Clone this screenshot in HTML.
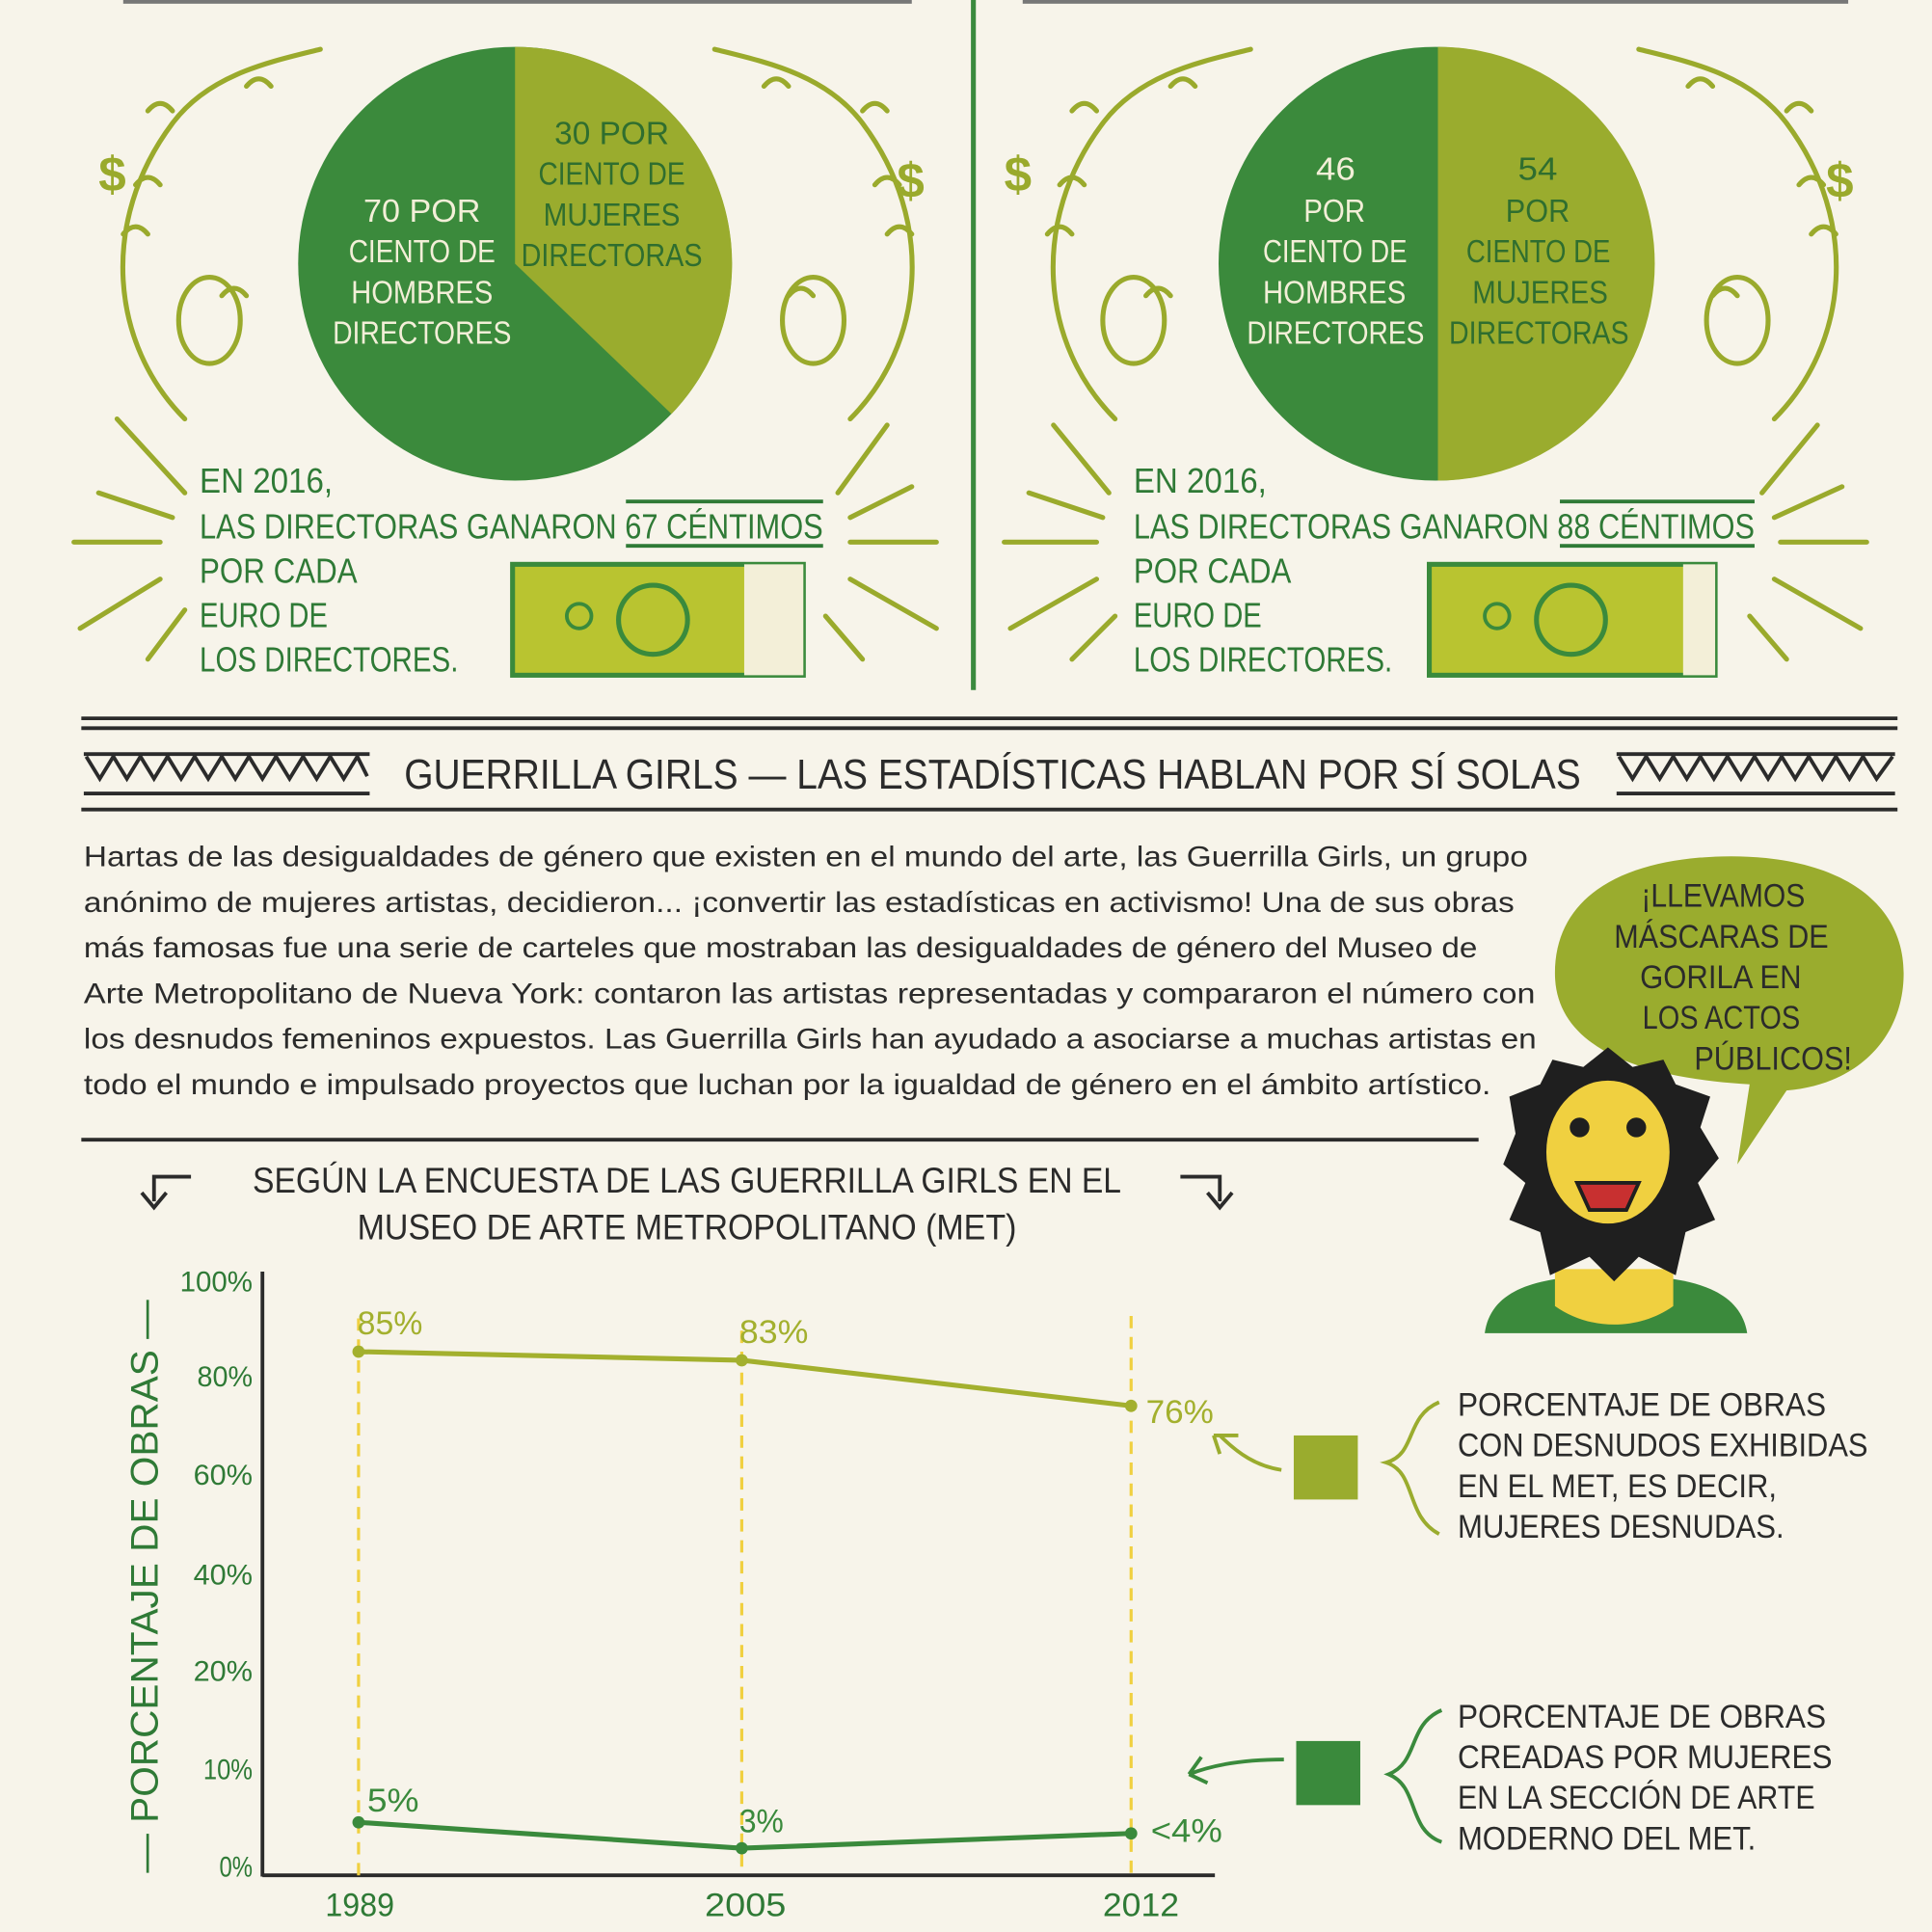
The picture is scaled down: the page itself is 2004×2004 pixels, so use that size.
<!DOCTYPE html>
<html><head><meta charset="utf-8"><style>
html,body{margin:0;padding:0;background:#f7f4ea}
svg{display:block}
.h{font-family:"Liberation Sans",sans-serif;font-weight:bold}
</style></head><body>
<svg width="2004" height="2004" viewBox="0 0 1568 1568" xmlns="http://www.w3.org/2000/svg">
<rect width="1568" height="1568" fill="#f7f4ea"/>
<rect x="100" y="0" width="640" height="3" fill="#777"/>
<rect x="830" y="0" width="670" height="3" fill="#777"/>
<line x1="790" y1="0" x2="790" y2="560" stroke="#3a8a3e" stroke-width="4"/>
<!-- laurel decorations -->
<g fill="none" stroke="#9aaa2c" stroke-width="4" stroke-linecap="round">
<path d="M150,340 C90,280 80,180 140,100 C170,60 220,50 260,40"/>
<path d="M690,340 C750,280 760,180 700,100 C670,60 620,50 580,40"/>
<path d="M905,340 C845,280 835,180 895,100 C925,60 975,50 1015,40"/>
<path d="M1440,340 C1500,280 1510,180 1450,100 C1420,60 1370,50 1330,40"/>
<ellipse cx="170" cy="260" rx="25" ry="35"/><ellipse cx="660" cy="260" rx="25" ry="35"/>
<ellipse cx="920" cy="260" rx="25" ry="35"/><ellipse cx="1410" cy="260" rx="25" ry="35"/>
<path d="M95,340 L150,400 M80,400 L140,420 M60,440 L130,440 M65,510 L130,470 M120,535 L150,495"/>
<path d="M720,345 L680,400 M740,395 L690,420 M760,440 L690,440 M760,510 L690,470 M700,535 L670,500"/>
<path d="M855,345 L900,400 M835,400 L895,420 M815,440 L890,440 M820,510 L890,470 M870,535 L905,500"/>
<path d="M1475,345 L1430,400 M1495,395 L1440,420 M1515,440 L1445,440 M1510,510 L1440,470 M1450,535 L1420,500"/>
<path d="M120,90 q10,-12 20,0 M100,190 q10,-12 20,0 M110,150 q10,-12 20,0 M200,70 q10,-12 20,0 M180,240 q10,-12 20,0"/>
<path d="M700,90 q10,-12 20,0 M720,190 q10,-12 20,0 M710,150 q10,-12 20,0 M620,70 q10,-12 20,0 M640,240 q10,-12 20,0"/>
<path d="M870,90 q10,-12 20,0 M850,190 q10,-12 20,0 M860,150 q10,-12 20,0 M950,70 q10,-12 20,0 M930,240 q10,-12 20,0"/>
<path d="M1450,90 q10,-12 20,0 M1470,190 q10,-12 20,0 M1460,150 q10,-12 20,0 M1370,70 q10,-12 20,0 M1390,240 q10,-12 20,0"/>
</g>
<text x="80" y="155" font-size="40" fill="#9aaa2c" class="h">$</text>
<text x="728" y="160" font-size="40" fill="#9aaa2c" class="h">$</text>
<text x="815" y="155" font-size="40" fill="#9aaa2c" class="h">$</text>
<text x="1482" y="160" font-size="40" fill="#9aaa2c" class="h">$</text>
<!-- pies -->
<circle cx="418" cy="214" r="176" fill="#3b8a3c"/>
<path d="M418,214 L418,38 A176,176 0 0 1 545,336 Z" fill="#9aac2e"/>
<circle cx="1165" cy="214" r="176" fill="#3b8a3c"/>
<path d="M1167,214 L1167,38 A176,176 0 0 1 1167,390 Z" fill="#9aac2e"/>
<g font-family="Liberation Sans,sans-serif" font-size="26" lengthAdjust="spacingAndGlyphs">
<g fill="#f3efd8">
<text x="295" y="180" textLength="95" lengthAdjust="spacingAndGlyphs">70 POR</text>
<text x="283" y="213" textLength="119" lengthAdjust="spacingAndGlyphs">CIENTO DE</text>
<text x="285" y="246" textLength="115" lengthAdjust="spacingAndGlyphs">HOMBRES</text>
<text x="270" y="279" textLength="145" lengthAdjust="spacingAndGlyphs">DIRECTORES</text>
<text x="1068" y="146" textLength="32" lengthAdjust="spacingAndGlyphs">46</text>
<text x="1058" y="180" textLength="50" lengthAdjust="spacingAndGlyphs">POR</text>
<text x="1025" y="213" textLength="117" lengthAdjust="spacingAndGlyphs">CIENTO DE</text>
<text x="1025" y="246" textLength="116" lengthAdjust="spacingAndGlyphs">HOMBRES</text>
<text x="1012" y="279" textLength="144" lengthAdjust="spacingAndGlyphs">DIRECTORES</text>
</g>
<g fill="#2f6e2f">
<text x="450" y="117" textLength="93" lengthAdjust="spacingAndGlyphs">30 POR</text>
<text x="437" y="150" textLength="119" lengthAdjust="spacingAndGlyphs">CIENTO DE</text>
<text x="441" y="183" textLength="111" lengthAdjust="spacingAndGlyphs">MUJERES</text>
<text x="423" y="216" textLength="147" lengthAdjust="spacingAndGlyphs">DIRECTORAS</text>
<text x="1232" y="146" textLength="32" lengthAdjust="spacingAndGlyphs">54</text>
<text x="1222" y="180" textLength="52" lengthAdjust="spacingAndGlyphs">POR</text>
<text x="1190" y="213" textLength="117" lengthAdjust="spacingAndGlyphs">CIENTO DE</text>
<text x="1195" y="246" textLength="110" lengthAdjust="spacingAndGlyphs">MUJERES</text>
<text x="1176" y="279" textLength="146" lengthAdjust="spacingAndGlyphs">DIRECTORAS</text>
</g>
</g>
<!-- money text -->
<g font-family="Liberation Sans,sans-serif" fill="#2f7a36" font-size="28">
<text x="162" y="400" textLength="108" lengthAdjust="spacingAndGlyphs">EN 2016,</text>
<text x="162" y="437" textLength="506" lengthAdjust="spacingAndGlyphs">LAS DIRECTORAS GANARON 67 CÉNTIMOS</text>
<text x="162" y="473" textLength="128" lengthAdjust="spacingAndGlyphs">POR CADA</text>
<text x="162" y="509" textLength="104" lengthAdjust="spacingAndGlyphs">EURO DE</text>
<text x="162" y="545" textLength="210" lengthAdjust="spacingAndGlyphs">LOS DIRECTORES.</text>
<text x="920" y="400" textLength="108" lengthAdjust="spacingAndGlyphs">EN 2016,</text>
<text x="920" y="437" textLength="504" lengthAdjust="spacingAndGlyphs">LAS DIRECTORAS GANARON 88 CÉNTIMOS</text>
<text x="920" y="473" textLength="128" lengthAdjust="spacingAndGlyphs">POR CADA</text>
<text x="920" y="509" textLength="104" lengthAdjust="spacingAndGlyphs">EURO DE</text>
<text x="920" y="545" textLength="210" lengthAdjust="spacingAndGlyphs">LOS DIRECTORES.</text>
</g>
<line x1="508" y1="407" x2="668" y2="407" stroke="#2f7a36" stroke-width="3"/>
<line x1="1266" y1="407" x2="1424" y2="407" stroke="#2f7a36" stroke-width="3"/>
<line x1="508" y1="443" x2="668" y2="443" stroke="#2f7a36" stroke-width="3"/>
<line x1="1266" y1="443" x2="1424" y2="443" stroke="#2f7a36" stroke-width="3"/>
<!-- bills -->
<rect x="416" y="458" width="236" height="90" fill="#b9c430" stroke="#3a8a3c" stroke-width="4"/>
<rect x="604" y="458" width="48" height="90" fill="#f3efd8"/>
<circle cx="530" cy="503" r="28" fill="none" stroke="#3a8a3c" stroke-width="4"/>
<circle cx="470" cy="500" r="10" fill="none" stroke="#3a8a3c" stroke-width="3"/>
<rect x="1160" y="458" width="232" height="90" fill="#b9c430" stroke="#3a8a3c" stroke-width="4"/>
<rect x="1366" y="458" width="26" height="90" fill="#f3efd8"/>
<circle cx="1275" cy="503" r="28" fill="none" stroke="#3a8a3c" stroke-width="4"/>
<circle cx="1215" cy="500" r="10" fill="none" stroke="#3a8a3c" stroke-width="3"/>
<!-- header band -->
<g stroke="#2b2b2b" stroke-width="3" fill="none">
<line x1="66" y1="583" x2="1540" y2="583"/><line x1="66" y1="591" x2="1540" y2="591"/>
<line x1="66" y1="657" x2="1540" y2="657"/>
<line x1="68" y1="612" x2="300" y2="612"/><line x1="68" y1="644" x2="300" y2="644"/>
<line x1="1312" y1="612" x2="1538" y2="612"/><line x1="1312" y1="644" x2="1538" y2="644"/>
<path d="M70,614 L81,632 L92,614 L103,632 L114,614 L125,632 L136,614 L147,632 L158,614 L169,632 L180,614 L191,632 L202,614 L213,632 L224,614 L235,632 L246,614 L257,632 L268,614 L279,632 L290,614 L298,630"/>
<path d="M1314,614 L1325,632 L1336,614 L1347,632 L1358,614 L1369,632 L1380,614 L1391,632 L1402,614 L1413,632 L1424,614 L1435,632 L1446,614 L1457,632 L1468,614 L1479,632 L1490,614 L1501,632 L1512,614 L1523,632 L1536,614"/>
</g>
<text x="328" y="640" textLength="955" lengthAdjust="spacingAndGlyphs" font-family="Liberation Sans,sans-serif" font-size="34" fill="#2b2b2b">GUERRILLA GIRLS — LAS ESTADÍSTICAS HABLAN POR SÍ SOLAS</text>
<!-- paragraph -->
<g font-family="Liberation Sans,sans-serif" font-size="23" fill="#2b2b2b">
<text x="68" y="703" textLength="1172" lengthAdjust="spacingAndGlyphs">Hartas de las desigualdades de género que existen en el mundo del arte, las Guerrilla Girls, un grupo</text>
<text x="68" y="740" textLength="1161" lengthAdjust="spacingAndGlyphs">anónimo de mujeres artistas, decidieron... ¡convertir las estadísticas en activismo! Una de sus obras</text>
<text x="68" y="777" textLength="1131" lengthAdjust="spacingAndGlyphs">más famosas fue una serie de carteles que mostraban las desigualdades de género del Museo de</text>
<text x="68" y="814" textLength="1178" lengthAdjust="spacingAndGlyphs">Arte Metropolitano de Nueva York: contaron las artistas representadas y compararon el número con</text>
<text x="68" y="851" textLength="1179" lengthAdjust="spacingAndGlyphs">los desnudos femeninos expuestos. Las Guerrilla Girls han ayudado a asociarse a muchas artistas en</text>
<text x="68" y="888" textLength="1142" lengthAdjust="spacingAndGlyphs">todo el mundo e impulsado proyectos que luchan por la igualdad de género en el ámbito artístico.</text>
</g>
<line x1="66" y1="925" x2="1200" y2="925" stroke="#2b2b2b" stroke-width="3"/>
<!-- bubble -->
<path d="M1262,790 C1262,720 1330,695 1405,695 C1490,695 1545,730 1545,790 C1545,840 1510,880 1450,885 L1410,945 L1420,880 C1330,875 1262,850 1262,790 Z" fill="#9aac2e"/>
<g font-family="Liberation Sans,sans-serif" fill="#2b2b2b" font-size="27">
<text x="1332" y="736" textLength="133" lengthAdjust="spacingAndGlyphs">¡LLEVAMOS</text>
<text x="1310" y="769" textLength="174" lengthAdjust="spacingAndGlyphs">MÁSCARAS DE</text>
<text x="1331" y="802" textLength="131" lengthAdjust="spacingAndGlyphs">GORILA EN</text>
<text x="1333" y="835" textLength="128" lengthAdjust="spacingAndGlyphs">LOS ACTOS</text>
<text x="1375" y="868" textLength="128" lengthAdjust="spacingAndGlyphs">PÚBLICOS!</text>
</g>
<!-- gorilla -->
<path d="M1205,1082 C1210,1045 1250,1035 1310,1035 C1370,1035 1412,1045 1418,1082 Z" fill="#3b8a3c"/>
<path d="M1262,1030 L1262,1060 C1290,1080 1330,1080 1358,1060 L1358,1030 Z" fill="#f0d040"/>
<path d="M1230,920 L1220,945 L1238,960 L1225,990 L1250,1000 L1258,1035 L1290,1020 L1310,1040 L1330,1020 L1360,1035 L1368,1000 L1392,990 L1378,960 L1395,940 L1380,915 L1388,890 L1360,880 L1350,860 L1325,866 L1305,850 L1285,866 L1260,860 L1250,880 L1225,890 Z" fill="#1f1f1f"/>
<ellipse cx="1305" cy="935" rx="50" ry="58" fill="#f0d040"/>
<circle cx="1282" cy="915" r="8" fill="#1f1f1f"/><circle cx="1328" cy="915" r="8" fill="#1f1f1f"/>
<path d="M1280,960 L1330,960 L1320,982 L1290,982 Z" fill="#c83030" stroke="#1f1f1f" stroke-width="3"/>
<!-- chart title -->
<g font-family="Liberation Sans,sans-serif" fill="#2b2b2b" font-size="29">
<text x="205" y="968" textLength="705" lengthAdjust="spacingAndGlyphs">SEGÚN LA ENCUESTA DE LAS GUERRILLA GIRLS EN EL</text>
<text x="290" y="1006" textLength="535" lengthAdjust="spacingAndGlyphs">MUSEO DE ARTE METROPOLITANO (MET)</text>
</g>
<g fill="none" stroke="#2b2b2b" stroke-width="3">
<path d="M155,955 L125,955 L125,975 M115,968 L125,980 L135,968"/>
<path d="M958,955 L990,955 L990,975 M980,968 L990,980 L1000,968"/>
</g>
<!-- axes -->
<line x1="213" y1="1032" x2="213" y2="1523" stroke="#2b2b2b" stroke-width="3"/>
<line x1="213" y1="1522" x2="986" y2="1522" stroke="#2b2b2b" stroke-width="3"/>
<g font-family="Liberation Sans,sans-serif" fill="#2f7a36" font-size="23">
<text x="146" y="1048" textLength="59" lengthAdjust="spacingAndGlyphs">100%</text>
<text x="160" y="1125" textLength="45" lengthAdjust="spacingAndGlyphs">80%</text>
<text x="157" y="1205" textLength="48" lengthAdjust="spacingAndGlyphs">60%</text>
<text x="157" y="1286" textLength="48" lengthAdjust="spacingAndGlyphs">40%</text>
<text x="157" y="1364" textLength="48" lengthAdjust="spacingAndGlyphs">20%</text>
<text x="165" y="1444" textLength="40" lengthAdjust="spacingAndGlyphs">10%</text>
<text x="178" y="1523" textLength="27" lengthAdjust="spacingAndGlyphs">0%</text>
</g>
<text transform="translate(128,1520) rotate(-90)" textLength="465" lengthAdjust="spacingAndGlyphs" font-family="Liberation Sans,sans-serif" font-size="31" fill="#2f7a36">— PORCENTAJE DE OBRAS —</text>
<g stroke="#f0d040" stroke-width="2.5" stroke-dasharray="10,7">
<line x1="291" y1="1070" x2="291" y2="1522"/><line x1="602" y1="1080" x2="602" y2="1522"/><line x1="918" y1="1068" x2="918" y2="1522"/>
</g>
<polyline points="291,1097 602,1104 918,1141" fill="none" stroke="#a3b02e" stroke-width="4"/>
<polyline points="291,1479 602,1500 918,1488" fill="none" stroke="#3a8a3c" stroke-width="4"/>
<g fill="#a3b02e"><circle cx="291" cy="1097" r="5"/><circle cx="602" cy="1104" r="5"/><circle cx="918" cy="1141" r="5"/></g>
<g fill="#3a8a3c"><circle cx="291" cy="1479" r="5"/><circle cx="602" cy="1500" r="5"/><circle cx="918" cy="1488" r="5"/></g>
<g font-family="Liberation Sans,sans-serif" font-size="27" fill="#a3b02e">
<text x="290" y="1083" textLength="53" lengthAdjust="spacingAndGlyphs">85%</text>
<text x="600" y="1090" textLength="56" lengthAdjust="spacingAndGlyphs">83%</text>
<text x="930" y="1155" textLength="55" lengthAdjust="spacingAndGlyphs">76%</text>
</g>
<g font-family="Liberation Sans,sans-serif" font-size="27" fill="#3a8a3c">
<text x="298" y="1470" textLength="42" lengthAdjust="spacingAndGlyphs">5%</text>
<text x="600" y="1487" textLength="36" lengthAdjust="spacingAndGlyphs">3%</text>
<text x="934" y="1495" textLength="58" lengthAdjust="spacingAndGlyphs">&lt;4%</text>
</g>
<g font-family="Liberation Sans,sans-serif" font-size="27" fill="#2f7a36">
<text x="264" y="1555" textLength="56" lengthAdjust="spacingAndGlyphs">1989</text>
<text x="572" y="1555" textLength="66" lengthAdjust="spacingAndGlyphs">2005</text>
<text x="895" y="1555" textLength="62" lengthAdjust="spacingAndGlyphs">2012</text>
</g>
<!-- legend -->
<rect x="1050" y="1165" width="52" height="52" fill="#9aac2e"/>
<rect x="1052" y="1413" width="52" height="52" fill="#3a8a3c"/>
<g fill="none" stroke-width="3">
<path d="M1040,1193 C1020,1190 1005,1180 990,1165 M985,1165 L1005,1165 M985,1165 L990,1180" stroke="#9aac2e"/>
<path d="M1168,1138 C1140,1150 1150,1180 1125,1187 C1150,1195 1140,1230 1168,1245" stroke="#9aac2e"/>
<path d="M1042,1428 C1010,1428 985,1432 965,1440 M965,1440 L975,1426 M965,1440 L980,1447" stroke="#3a8a3c"/>
<path d="M1170,1388 C1142,1400 1152,1430 1127,1440 C1152,1450 1142,1485 1170,1495" stroke="#3a8a3c"/>
</g>
<g font-family="Liberation Sans,sans-serif" font-size="27" fill="#2b2b2b">
<text x="1183" y="1149" textLength="299" lengthAdjust="spacingAndGlyphs">PORCENTAJE DE OBRAS</text>
<text x="1183" y="1182" textLength="333" lengthAdjust="spacingAndGlyphs">CON DESNUDOS EXHIBIDAS</text>
<text x="1183" y="1215" textLength="259" lengthAdjust="spacingAndGlyphs">EN EL MET, ES DECIR,</text>
<text x="1183" y="1248" textLength="265" lengthAdjust="spacingAndGlyphs">MUJERES DESNUDAS.</text>
<text x="1183" y="1402" textLength="299" lengthAdjust="spacingAndGlyphs">PORCENTAJE DE OBRAS</text>
<text x="1183" y="1435" textLength="304" lengthAdjust="spacingAndGlyphs">CREADAS POR MUJERES</text>
<text x="1183" y="1468" textLength="290" lengthAdjust="spacingAndGlyphs">EN LA SECCIÓN DE ARTE</text>
<text x="1183" y="1501" textLength="242" lengthAdjust="spacingAndGlyphs">MODERNO DEL MET.</text>
</g>
</svg>
</body></html>
